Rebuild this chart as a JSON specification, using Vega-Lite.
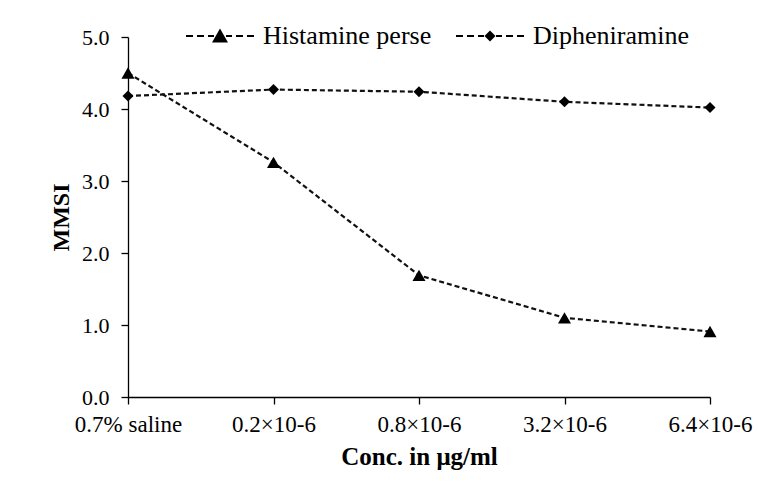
{
  "$schema": "https://vega.github.io/schema/vega-lite/v6.json",
  "width": 582,
  "height": 360,
  "autosize": "none",
  "padding": {"left": 128, "top": 37, "right": 48, "bottom": 94},
  "background": "white",
  "config": {
    "view": {"stroke": null},
    "font": "Liberation Serif",
    "axis": {"grid": false, "domainColor": "black", "tickColor": "black", "labelColor": "black", "titleColor": "black", "labelFont": "Liberation Serif", "titleFont": "Liberation Serif", "domainWidth": 1.3, "tickWidth": 1.3}
  },
  "data": {"values": [
    {"series": "Histamine perse", "conc": "0.7% saline", "value": 4.5},
    {"series": "Histamine perse", "conc": "0.2×10-6", "value": 3.26},
    {"series": "Histamine perse", "conc": "0.8×10-6", "value": 1.69},
    {"series": "Histamine perse", "conc": "3.2×10-6", "value": 1.1},
    {"series": "Histamine perse", "conc": "6.4×10-6", "value": 0.91},
    {"series": "Dipheniramine", "conc": "0.7% saline", "value": 4.18},
    {"series": "Dipheniramine", "conc": "0.2×10-6", "value": 4.27},
    {"series": "Dipheniramine", "conc": "0.8×10-6", "value": 4.24},
    {"series": "Dipheniramine", "conc": "3.2×10-6", "value": 4.1},
    {"series": "Dipheniramine", "conc": "6.4×10-6", "value": 4.02}
  ]},
  "encoding": {
    "x": {"field": "conc", "type": "ordinal", "sort": ["0.7% saline", "0.2×10-6", "0.8×10-6", "3.2×10-6", "6.4×10-6"], "scale": {"type": "point", "padding": 0},
      "axis": {"labelAngle": 0, "tickSize": 7, "labelPadding": 9, "labelFontSize": 23, "title": "Conc. in μg/ml", "titleFontSize": 25, "titleFontWeight": "bold", "titlePadding": 8}},
    "y": {"field": "value", "type": "quantitative", "scale": {"domain": [0, 5]},
      "axis": {"values": [0, 1, 2, 3, 4, 5], "format": ".1f", "tickSize": 7, "labelPadding": 12, "labelFontSize": 22, "title": "MMSI", "titleFontSize": 24, "titleFontWeight": "bold", "titlePadding": 8}}
  },
  "layer": [
    {
      "mark": {"type": "line", "strokeDash": [5, 3], "strokeWidth": 2.2, "color": "#111111"},
      "encoding": {"detail": {"field": "series"}}
    },
    {
      "mark": {"type": "point", "filled": true, "opacity": 1, "color": "black"},
      "encoding": {
        "size": {"condition": {"test": "datum.series === 'Histamine perse'", "value": 170}, "value": 120},
        "shape": {"condition": {"test": "datum.series === 'Histamine perse'", "value": "triangle-up"}, "value": "diamond"}
      }
    },
    {
      "mark": {"type": "point", "filled": true, "opacity": 1, "color": "black", "size": 0},
      "encoding": {
        "shape": {"field": "series", "type": "nominal",
          "scale": {"domain": ["Histamine perse", "Dipheniramine"], "range": [
            "M-6.8,-0.2H-5.4V0.2H-6.8ZM-4.6,-0.2H-3.2V0.2H-4.6ZM-2.4,-0.2H-1.2V0.2H-2.4ZM-1.6,1.3L0,-1.5L1.6,1.3ZM1.2,-0.2H2.4V0.2H1.2ZM3.2,-0.2H4.6V0.2H3.2ZM5.4,-0.2H6.8V0.2H5.4Z",
            "M-6.8,-0.2H-5.4V0.2H-6.8ZM-4.6,-0.2H-3.2V0.2H-4.6ZM-2.4,-0.2H-1.2V0.2H-2.4ZM0,-1.1L1.1,0L0,1.1L-1.1,0ZM1.2,-0.2H2.4V0.2H1.2ZM3.2,-0.2H4.6V0.2H3.2ZM5.4,-0.2H6.8V0.2H5.4Z"]},
          "legend": {
            "title": null, "orient": "none", "legendX": 51, "legendY": -14, "direction": "horizontal",
            "labelFont": "Liberation Serif", "labelFontSize": 26, "labelColor": "black", "labelLimit": 400,
            "symbolSize": 100, "symbolOffset": 28, "labelOffset": 30, "columnPadding": 17, "padding": 0,
            "symbolFillColor": "black", "symbolOpacity": 1
          }}
      }
    }
  ]
}
